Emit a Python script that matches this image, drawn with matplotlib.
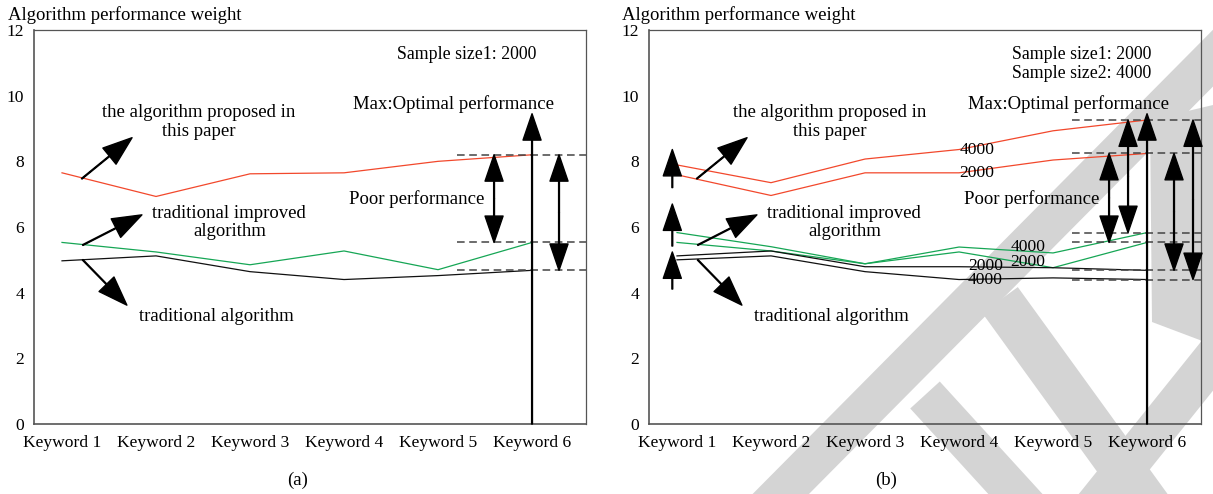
import matplotlib
matplotlib.use("Agg")
import matplotlib.pyplot as plt
from matplotlib.patches import Polygon
import numpy as np

plt.rcParams['font.family'] = ['Liberation Serif', 'DejaVu Serif']

# ---------------- data ----------------
keywords = ["Keyword 1", "Keyword 2", "Keyword 3", "Keyword 4", "Keyword 5", "Keyword 6"]
y_ticks = [0, 2, 4, 6, 8, 10, 12]

# panel (a): sample size 2000
a_proposed = [7.65, 6.93, 7.62, 7.65, 8.00, 8.20]
a_improved = [5.53, 5.24, 4.85, 5.27, 4.70, 5.53]
a_traditional = [4.97, 5.12, 4.64, 4.40, 4.52, 4.68]

# panel (b): sample sizes 2000 and 4000
b_proposed_2000 = [7.59, 6.96, 7.65, 7.65, 8.04, 8.24]
b_proposed_4000 = [7.89, 7.35, 8.07, 8.36, 8.93, 9.26]
b_improved_2000 = [5.53, 5.27, 4.88, 5.24, 4.76, 5.53]
b_improved_4000 = [5.83, 5.40, 4.88, 5.39, 5.21, 5.83]
b_traditional_2000 = [5.12, 5.27, 4.79, 4.79, 4.76, 4.68]
b_traditional_4000 = [5.00, 5.12, 4.64, 4.40, 4.45, 4.40]

max_performance = 9.45

# ---------------- styling ----------------
RED = "#f2482c"
GREEN = "#16a655"
BLACK = "#111111"
SPINE = "#555555"
DASH = "#444444"
STAMP = "#d4d4d4"
FS = 13.5      # annotation text
FS_TICK = 12.6
FS_NUM = 12.6
LW = 0.9
W, H = 1213, 494

fig = plt.figure(figsize=(W / 100, H / 100), dpi=100)

# diagonal stamp strokes behind panel (b), in pixel space
bg = fig.add_axes([0, 0, 1, 1], zorder=-1)
bg.set_xlim(0, W)
bg.set_ylim(H, 0)
bg.axis("off")


def stroke(p0, p1, half):
    p0, p1 = np.array(p0, float), np.array(p1, float)
    d = (p1 - p0) / np.hypot(*(p1 - p0))
    n = np.array([-d[1], d[0]]) * half
    bg.add_patch(Polygon([p0 + n, p1 + n, p1 - n, p0 - n], closed=True,
                         facecolor=STAMP, edgecolor="none"))


stroke((755, 520), (1232, 39), 20)
stroke((1000, 300), (1152, 510), 22)
stroke((925, 395), (1030, 510), 20)
stroke((1090, 512), (1232, 335), 20)
bg.add_patch(Polygon([(1150, 120), (1213, 105), (1213, 345), (1152, 322)],
                     closed=True, facecolor=STAMP, edgecolor="none"))


def px_axes(left_px):
    ax = fig.add_axes([left_px / W, 1 - 424 / H, 552 / W, 394 / H])
    ax.set_facecolor("none")
    return ax


def setup(ax):
    ax.set_xlim(-0.298, 5.574)
    ax.set_ylim(0, 12)
    ax.set_xticks(range(len(keywords)))
    ax.set_xticklabels(keywords)
    ax.set_yticks(y_ticks)
    ax.tick_params(length=0, labelsize=FS_TICK)
    ax.tick_params(axis='x', pad=8)
    ax.tick_params(axis='y', pad=7)
    for s in ax.spines.values():
        s.set_color(SPINE)
        s.set_linewidth(1.2)
    ax.spines['top'].set_linewidth(0.9)
    ax.spines['right'].set_linewidth(0.9)


def head_arrow(ax, tail, tip, hl=19, hw=13):
    ax.annotate("", xy=tip, xytext=tail,
                arrowprops=dict(width=0.6, headwidth=hw, headlength=hl,
                                color="black", shrink=0),
                annotation_clip=False)


def double_arrow(ax, x, y0, y1):
    mid = (y0 + y1) / 2
    head_arrow(ax, (x, mid), (x, y0))
    head_arrow(ax, (x, mid), (x, y1))


def dashed_levels(ax, levels):
    ax.hlines(levels, 4.202, 5.574, colors=DASH, linestyles=(0, (5, 3)), lw=1.1)


def series_labels(ax, proposed_x):
    ax.text(proposed_x, 9.2, "the algorithm proposed in\nthis paper", ha="center",
            va="center", fontsize=FS, linespacing=1.1)
    ax.text(1.78, 6.14, "traditional improved\nalgorithm", ha="center", va="center",
            fontsize=FS, linespacing=1.1)
    ax.text(1.64, 3.27, "traditional algorithm", ha="center", va="center", fontsize=FS)
    head_arrow(ax, (0.21, 7.47), (0.745, 8.72), hl=21, hw=15)
    head_arrow(ax, (0.22, 5.45), (0.85, 6.37), hl=21, hw=15)
    head_arrow(ax, (0.22, 5.00), (0.69, 3.62), hl=21, hw=15)


x = list(range(len(keywords)))

# ---------------- panel (a) ----------------
ax1 = px_axes(34)
setup(ax1)
ax1.plot(x, a_proposed, color=RED, lw=LW)
ax1.plot(x, a_improved, color=GREEN, lw=LW)
ax1.plot(x, a_traditional, color=BLACK, lw=LW)
dashed_levels(ax1, [a_proposed[-1], a_improved[-1], a_traditional[-1]])
head_arrow(ax1, (5, 0), (5, max_performance))
double_arrow(ax1, 4.596, a_proposed[-1], a_improved[-1])
double_arrow(ax1, 5.287, a_proposed[-1], a_traditional[-1])
series_labels(ax1, 1.457)
ax1.text(4.30, 11.25, "Sample size1: 2000", ha="center", va="center", fontsize=12.8)
ax1.text(4.16, 9.74, "Max:Optimal performance", ha="center", va="center", fontsize=FS)
ax1.text(3.77, 6.85, "Poor performance", ha="center", va="center", fontsize=FS)

# ---------------- panel (b) ----------------
ax2 = px_axes(649)
setup(ax2)
ax2.plot(x, b_proposed_2000, color=RED, lw=LW)
ax2.plot(x, b_proposed_4000, color=RED, lw=LW)
ax2.plot(x, b_improved_2000, color=GREEN, lw=LW)
ax2.plot(x, b_improved_4000, color=GREEN, lw=LW)
ax2.plot(x, b_traditional_2000, color=BLACK, lw=LW)
ax2.plot(x, b_traditional_4000, color=BLACK, lw=LW)
dashed_levels(ax2, [b_proposed_4000[-1], b_proposed_2000[-1], b_improved_4000[-1],
                    b_improved_2000[-1], b_traditional_2000[-1], b_traditional_4000[-1]])
head_arrow(ax2, (5, 0), (5, max_performance))
double_arrow(ax2, 4.596, b_proposed_2000[-1], b_improved_2000[-1])
double_arrow(ax2, 4.798, b_proposed_4000[-1], b_improved_4000[-1])
double_arrow(ax2, 5.287, b_proposed_2000[-1], b_traditional_2000[-1])
double_arrow(ax2, 5.489, b_proposed_4000[-1], b_traditional_4000[-1])
# growth from sample size 2000 to 4000 at the first keyword
head_arrow(ax2, (-0.05, 7.20), (-0.05, 8.36))
head_arrow(ax2, (-0.05, 5.42), (-0.05, 6.70))
head_arrow(ax2, (-0.05, 4.11), (-0.05, 5.24))
series_labels(ax2, 1.62)
ax2.text(4.30, 10.96, "Sample size1: 2000\nSample size2: 4000", ha="center",
         va="center", fontsize=12.8, linespacing=1.18)
ax2.text(4.16, 9.74, "Max:Optimal performance", ha="center", va="center", fontsize=FS)
ax2.text(3.77, 6.85, "Poor performance", ha="center", va="center", fontsize=FS)
for xv, yv, s in [(3.19, 8.36, "4000"), (3.19, 7.65, "2000"),
                  (3.73, 5.39, "4000"), (3.73, 4.94, "2000"),
                  (3.28, 4.82, "2000"), (3.28, 4.40, "4000")]:
    ax2.text(xv, yv, s, ha="center", va="center", fontsize=FS_NUM)

# axis titles and panel captions
for left in (8, 622):
    fig.text(left / W, 1 - 15 / H, "Algorithm performance weight", ha="left",
             va="center", fontsize=FS)
fig.text(298 / W, 1 - 480 / H, "(a)", ha="center", va="center", fontsize=FS)
fig.text(886 / W, 1 - 480 / H, "(b)", ha="center", va="center", fontsize=FS)

fig.savefig("out.png", dpi=100)
